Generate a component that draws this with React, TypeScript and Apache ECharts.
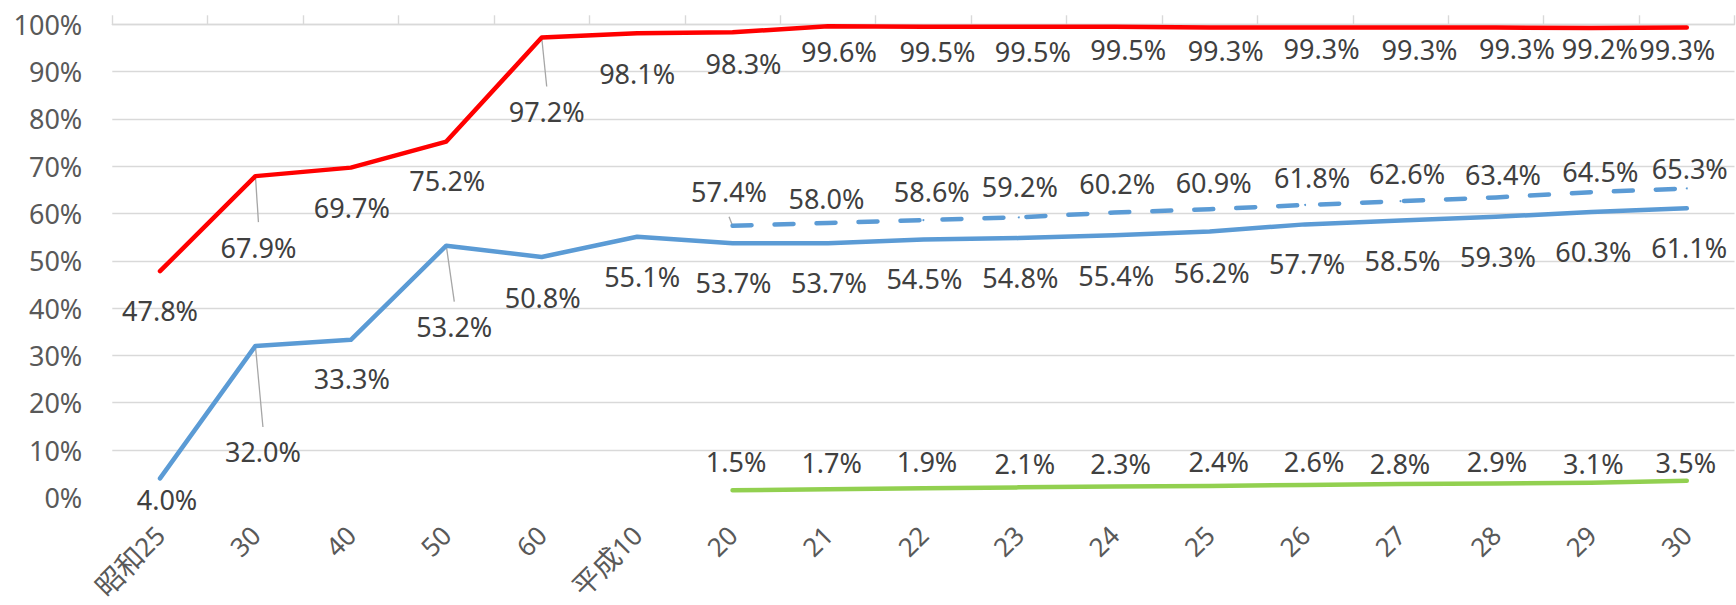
import React, { useEffect, useRef } from 'react';
import * as echarts from 'echarts';

// ---- data ----
const categories = ['昭和25', '30', '40', '50', '60', '平成10', '20', '21', '22', '23', '24', '25', '26', '27', '28', '29', '30'];
const seriesRed = [47.8, 67.9, 69.7, 75.2, 97.2, 98.1, 98.3, 99.6, 99.5, 99.5, 99.5, 99.3, 99.3, 99.3, 99.3, 99.2, 99.3];
const seriesBlue = [4.0, 32.0, 33.3, 53.2, 50.8, 55.1, 53.7, 53.7, 54.5, 54.8, 55.4, 56.2, 57.7, 58.5, 59.3, 60.3, 61.1];
const seriesBlueDashed = [null, null, null, null, null, null, 57.4, 58.0, 58.6, 59.2, 60.2, 60.9, 61.8, 62.6, 63.4, 64.5, 65.3];
const seriesGreen = [null, null, null, null, null, null, 1.5, 1.7, 1.9, 2.1, 2.3, 2.4, 2.6, 2.8, 2.9, 3.1, 3.5];
const yMin = 0;
const yMax = 100;
const yInterval = 10;

// ---- label placement (pixel offsets from each point) ----
const redLabelOffsets = [[0, 39], [3, 71], [1, 40], [1, 39], [5, 74], [0, 40], [11, 31], [11, 25.5], [14, 25], [14, 25], [14, 23], [16, 22.4], [16.5, 21], [19, 22], [21, 21], [8.5, 20], [-9.5, 21.4]];
const blueLabelOffsets = [[7, 21], [7.5, 106], [1, 39], [8, 81], [1, 40], [5, 40], [1, 39], [1, 39], [1, 39], [1.5, 39], [2, 40], [2, 40.7], [2, 39.6], [2, 39.7], [2, 39.5], [2, 39], [2.4, 39.5]];
const dashedLabelOffsets = [null, null, null, null, null, null, [-3.5, -34], [-1.5, -24.7], [8.4, -28.4], [1, -30.6], [3, -29.3], [4, -27], [7, -27.8], [6.6, -27.4], [7, -22.7], [9, -21], [3, -19.7]];
const greenLabelOffsets = [null, null, null, null, null, null, [3.5, -28.5], [3.7, -26.3], [3.6, -26.6], [6, -23.4], [6.4, -23.4], [9, -24], [9, -23.8], [-0.5, -21], [1, -22], [2, -19], [-1, -18]];
// labels joined to their point with a leader line
const leaderRefs: Array<[number[], (number[] | null)[], number]> = [
  [seriesRed, redLabelOffsets, 1],
  [seriesRed, redLabelOffsets, 4],
  [seriesBlue, blueLabelOffsets, 1],
  [seriesBlue, blueLabelOffsets, 3],
  [seriesBlueDashed as number[], dashedLabelOffsets, 6],
];

const FONT = "'Noto Sans', 'Noto Sans CJK JP', sans-serif";
const LABEL_COLOR = '#404040';
const AXIS_COLOR = '#595959';
const GRID_COLOR = '#D9D9D9';

function makeLine(name: string, values: (number | null)[], offsets: (number[] | null)[], color: string, dashed: boolean) {
  return {
    type: 'line',
    name,
    xAxisIndex: 0,
    yAxisIndex: 0,
    data: values.map((v, i) =>
      v == null ? '-' : { value: v, label: { offset: offsets[i] || [0, 0] } }
    ),
    symbol: 'circle',
    symbolSize: 2,
    showSymbol: true,
    connectNulls: false,
    itemStyle: { color },
    lineStyle: {
      color,
      width: 4.5,
      cap: 'round',
      join: 'round',
      type: dashed ? [19, 23] : 'solid',
    },
    label: {
      show: true,
      position: 'inside',
      color: LABEL_COLOR,
      fontSize: 27,
      fontFamily: FONT,
      formatter: (p: any) => Number(p.value).toFixed(1) + '%',
    },
    emphasis: { disabled: true },
    z: 3,
  };
}

export default function App() {
  const ref = useRef<HTMLDivElement>(null);

  useEffect(() => {
    if (!ref.current) return;
    const chart = echarts.init(ref.current, null, { renderer: 'svg' });

    const leaderData = leaderRefs.map(([vals, offs, idx]) => {
      const o = offs[idx] || [0, 0];
      return [idx, vals[idx], o[0], o[1]];
    });

    chart.setOption({
      animation: false,
      backgroundColor: '#ffffff',
      textStyle: { fontFamily: FONT },
      grid: {
        left: 112.3,
        right: 1.5,
        top: 24.3,
        bottom: 107.7,
        containLabel: false,
        outerBoundsMode: 'none',
      },
      xAxis: [
        {
          type: 'category',
          data: categories,
          position: 'bottom',
          boundaryGap: true,
          axisLine: { show: false },
          axisTick: { show: false },
          splitLine: { show: false },
          axisLabel: {
            show: true,
            interval: 0,
            rotate: 45,
            margin: 33,
            color: AXIS_COLOR,
            fontSize: 26,
            fontFamily: FONT,
            formatter: (v: string) => v.replace(/([^0-9]+)/g, '{c|$1}'),
            rich: {
              c: { fontSize: 28, color: AXIS_COLOR, fontFamily: FONT },
            },
          },
        },
        {
          type: 'category',
          data: categories,
          position: 'top',
          boundaryGap: true,
          axisLine: { show: true, lineStyle: { color: GRID_COLOR, width: 1.4 } },
          axisTick: { show: true, inside: false, length: 9, lineStyle: { color: GRID_COLOR, width: 1.4 } },
          axisLabel: { show: false },
          splitLine: { show: false },
        },
      ],
      yAxis: {
        type: 'value',
        min: yMin,
        max: yMax,
        interval: yInterval,
        axisLine: { show: false },
        axisTick: { show: false },
        splitLine: { show: true, showMinLine: false, lineStyle: { color: GRID_COLOR, width: 1.4 } },
        axisLabel: {
          formatter: '{value}%',
          margin: 30,
          color: AXIS_COLOR,
          fontSize: 27,
          fontFamily: FONT,
        },
      },
      series: [
        {
          type: 'custom',
          name: 'leaders',
          xAxisIndex: 0,
          yAxisIndex: 0,
          data: leaderData,
          encode: { x: 0, y: 1 },
          silent: true,
          z: 1,
          renderItem: (params: any, api: any) => {
            const p = api.coord([api.value(0), api.value(1)]);
            const dx = api.value(2);
            const dy = api.value(3);
            const sign = dy > 0 ? 1 : -1;
            return {
              type: 'line',
              shape: { x1: p[0], y1: p[1], x2: p[0] + dx, y2: p[1] + dy - sign * 25 },
              style: { stroke: '#A6A6A6', lineWidth: 1.3 },
            };
          },
        },
        makeLine('blue', seriesBlue, blueLabelOffsets, '#5B9BD5', false),
        makeLine('blueDashed', seriesBlueDashed, dashedLabelOffsets, '#5B9BD5', true),
        makeLine('green', seriesGreen, greenLabelOffsets, '#92D050', false),
        makeLine('red', seriesRed, redLabelOffsets, '#FF0000', false),
      ],
    });

    return () => chart.dispose();
  }, []);

  return (
    <div
      ref={ref}
      style={{ position: 'absolute', left: 0, top: 0, width: 1736, height: 605, background: '#fff' }}
    />
  );
}
